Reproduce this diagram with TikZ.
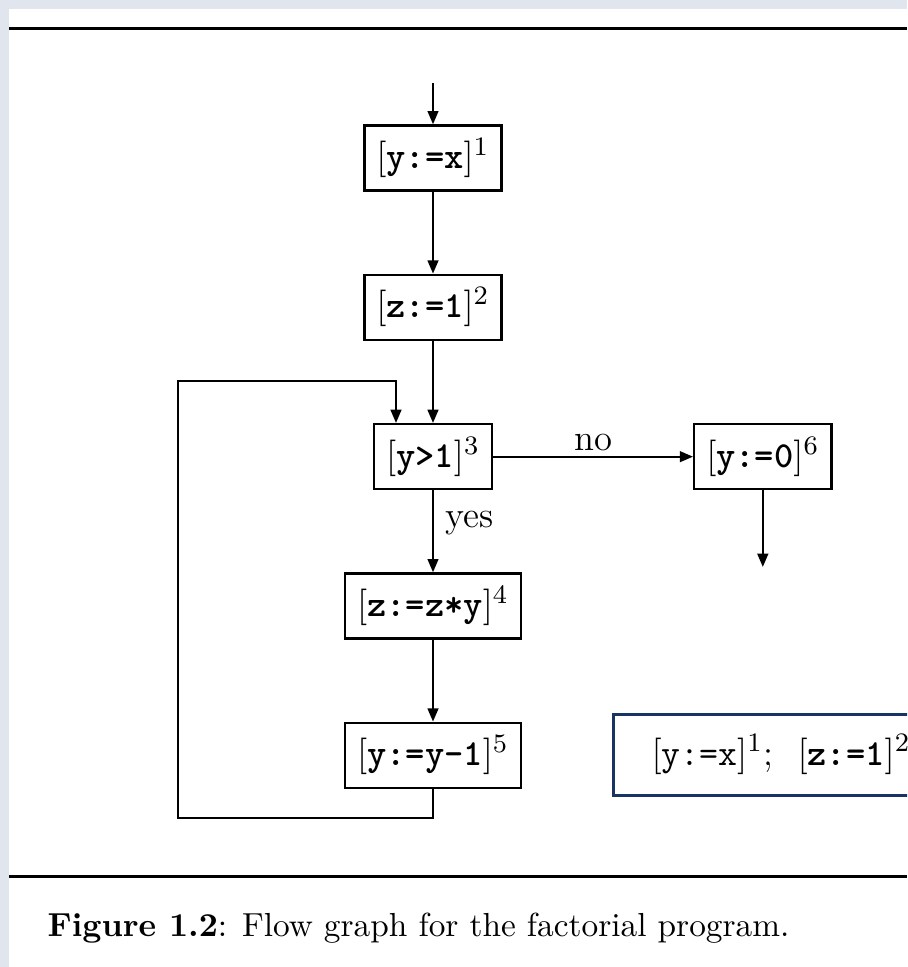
\documentclass[tikz,border=0pt]{standalone}
\usepackage{tikz}
\usepackage{xcolor}
\usetikzlibrary{positioning, arrows.meta}
\definecolor{framegray}{RGB}{225,229,238}
\definecolor{navy}{RGB}{24,52,100}

% labelled elementary block
\newcommand{\stmt}[2]{$[\mbox{\ttfamily\bfseries #1}]^{#2}$}

\begin{document}
\begin{tikzpicture}[x=0.3pt, y=-0.3pt,
    block/.style={rectangle, draw, line width=0.7pt, minimum height=19.5pt, inner xsep=3.6pt, font=\fontsize{11}{13}\selectfont},
    arrow/.style={-{Triangle[length=4pt,width=3.2pt]}, line width=0.7pt},
    rule/.style={line width=0.9pt},
    node distance=24.6pt
]

% page
\clip (0,0) rectangle (907,967);
\fill[framegray] (0,0) rectangle (907,967);
\fill[white] (9,9) rectangle (907,967);
\draw[rule] (9,28) -- (907,28);
\draw[rule] (9,876) -- (907,876);

% flow graph
\node[block] (b1) at (433,158) {\stmt{y:=x}{1}};
\node[block, below=of b1] (b2) {\stmt{z:=1}{2}};
\node[block, below=of b2] (b3) {\stmt{y>1}{3}};
\node[block, right=60pt of b3] (b6) {\stmt{y:=0}{6}};
\node[block, below=of b3] (b4) {\stmt{z:=z*y}{4}};
\node[block, below=of b4] (b5) {\stmt{y:=y-1}{5}};

\coordinate[above=12.3pt of b1] (entry);
\coordinate[below=23pt of b6] (exit);
\coordinate (loopcorner) at (178,818);
\coordinate[above=12.6pt of b3.north, xshift=-11.1pt] (loopin);

\draw[arrow] (entry) -- (b1);
\draw[arrow] (b1) -- (b2);
\draw[arrow] (b2) -- (b3);
\draw[arrow] (b3) -- node[above, inner sep=1.5pt, font=\fontsize{11}{13}\selectfont] {no} (b6);
\draw[arrow] (b3) -- node[right, pos=0.4, font=\fontsize{11}{13}\selectfont] {yes} (b4);
\draw[arrow] (b4) -- (b5);
\draw[arrow] (b6) -- (exit);
\draw[arrow] (b5.south) |- (loopcorner) |- (loopin) -- (loopin |- b3.north);

% inline form of the first two blocks
\node[draw=navy, line width=0.9pt, anchor=west, minimum height=24.3pt,
      inner xsep=11.4pt, text width=90pt, align=left, font=\fontsize{11}{13}\selectfont]
    (inline) at (612,754.5) {$[\mbox{\ttfamily y:=x}]^1$;\ \ \stmt{z:=1}{2}};

% caption
\node[anchor=base west, inner sep=0pt] (caption) at (47,936)
    {\textbf{Figure 1.2}: Flow graph for the factorial program.};

\end{tikzpicture}
\end{document}
